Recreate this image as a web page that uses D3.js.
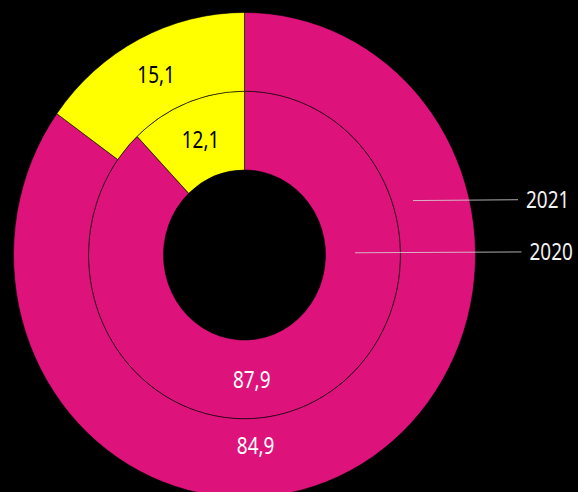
<!DOCTYPE html>
<html>
<head>
<meta charset="utf-8">
<script src="https://cdn.jsdelivr.net/npm/d3@7"></script>
<style>
  html, body {margin: 0; padding: 0; background: #000;}
  svg {display: block;}
  text {font-family: "Noto Sans", sans-serif;}
</style>
</head>
<body>
<div class="chartWrap"></div>
<script>
//Data
const years = ["2020", "2021"];        //inner ring, outer ring
const sharePink = [87.9, 84.9];
const shareYellow = [12.1, 15.1];
const labelsPink = ["87,9", "84,9"];
const labelsYellow = ["12,1", "15,1"];

//Layout
const w = 578, h = 492,
  cx = 244.5, cy = 255, sy = 1.05,     //picture is a little taller than wide
  radii = [81, 156, 231],
  colors = ["#dd137b", "#ffff00"],
  textColors = ["#ffffff", "#000000"];

let svg = d3.select(".chartWrap").append("svg").attr("width", w).attr("height", h);
svg.append("rect").attr("width", w).attr("height", h).attr("fill", "#000");

let g = svg.append("g").attr("transform", "translate(" + cx + "," + cy + ") scale(1," + sy + ")");
let pie = d3.pie().sort(null).value(d => d);

//screen position of a point given in ring coords
function toScreen(p) {return [cx + p[0], cy + p[1] * sy];}

function addText(p, txt, col, size) {
  let s = toScreen(p);
  svg.append("text").text(txt)
    .attr("transform", "translate(" + s[0] + "," + s[1] + ") scale(0.86," + sy + ")")
    .attr("text-anchor", "middle").attr("dy", "0.36em")
    .attr("font-size", size).attr("fill", col);
}

years.forEach(function(yr, i) {
  let arc = d3.arc().innerRadius(radii[i]).outerRadius(radii[i + 1]);
  let slices = pie([sharePink[i], shareYellow[i]]);
  g.selectAll(".ring" + i).data(slices).enter().append("path")
    .attr("class", "ring" + i)
    .attr("d", arc)
    .attr("fill", (d, j) => colors[j])
    .attr("stroke", "#000").attr("stroke-width", 0.8).attr("stroke-opacity", 0.7);

  //yellow label at centroid
  addText(arc.centroid(slices[1]), labelsYellow[i], textColors[1], 22);
  //pink label just right of bottom
  let a = 176.5 * Math.PI / 180,
    r = i == 0 ? 118.5 : 182;
  addText([r * Math.sin(a), -r * Math.cos(a)], labelsPink[i], textColors[0], 22);
});

//Legend callouts
const calloutAngle = [88.9, 72.9],
  calloutRadius = [110.5, 176.3],
  calloutEnd = [277, 273.5];
years.forEach(function(yr, i) {
  let a = calloutAngle[i] * Math.PI / 180;
  let p0 = [calloutRadius[i] * Math.sin(a), -calloutRadius[i] * Math.cos(a)];
  let p1 = [calloutEnd[i], p0[1] - 0.8];
  let s0 = toScreen(p0), s1 = toScreen(p1);
  svg.append("line").attr("x1", s0[0]).attr("y1", s0[1]).attr("x2", s1[0]).attr("y2", s1[1])
    .attr("stroke", "#d8d8d8").attr("stroke-opacity", 0.8).attr("stroke-width", 1);
  svg.append("text").text(yr)
    .attr("transform", "translate(" + (s1[0] + 8) + "," + s1[1] + ") scale(0.86," + sy + ")")
    .attr("dy", "0.36em").attr("font-size", 22).attr("fill", "#f2f2f2");
});
</script>
</body>
</html>
